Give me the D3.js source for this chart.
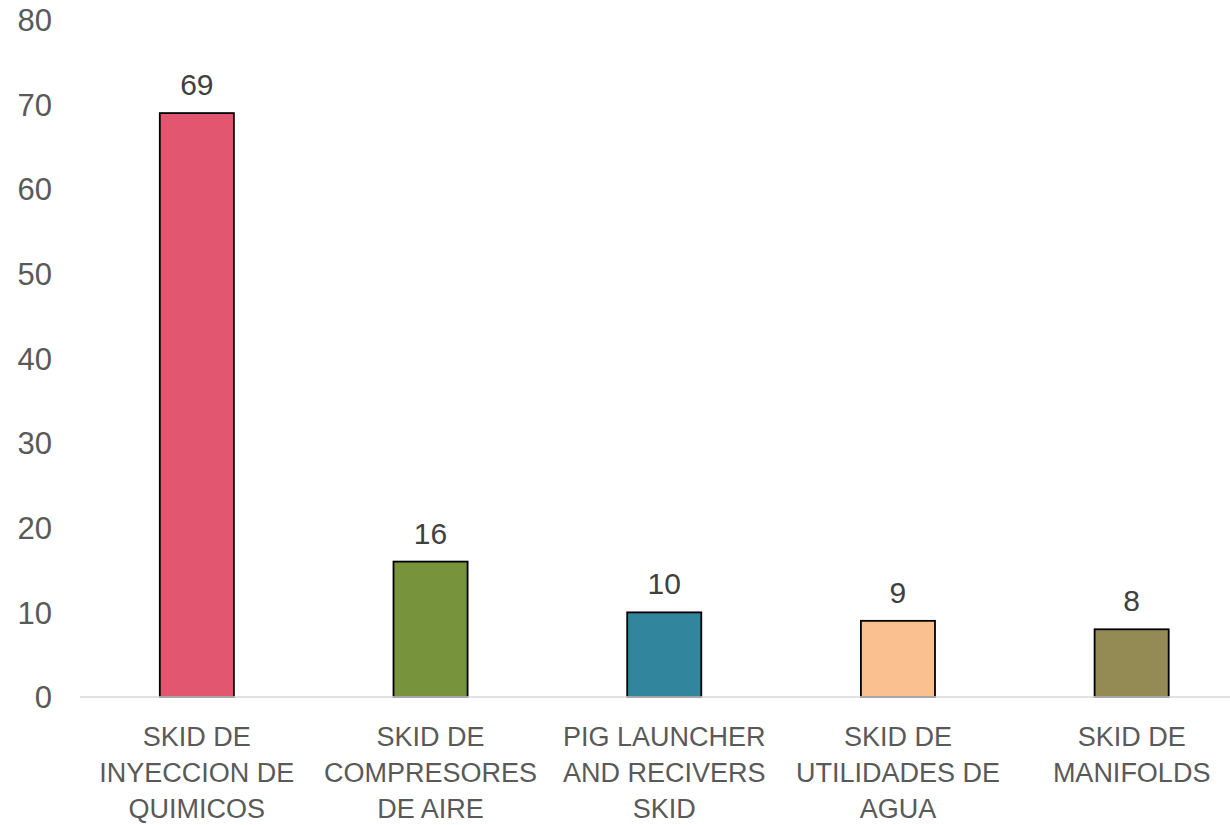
<!DOCTYPE html>
<html><head><meta charset="utf-8">
<script src="https://cdn.jsdelivr.net/npm/d3@7"></script>
<style>html,body{margin:0;padding:0;background:#fff;}svg{display:block;}</style>
</head><body>
<svg id="chart" width="1230" height="825"></svg>
<script>
const categories = [
  "SKID DE\nINYECCION DE\nQUIMICOS",
  "SKID DE\nCOMPRESORES\nDE AIRE",
  "PIG LAUNCHER\nAND RECIVERS\nSKID",
  "SKID DE\nUTILIDADES DE\nAGUA",
  "SKID DE\nMANIFOLDS"
];
const values = [69, 16, 10, 9, 8];
const colors = ["#E3566F", "#77933C", "#31859C", "#FAC090", "#948A54"];
const yTicks = [0, 10, 20, 30, 40, 50, 60, 70, 80];

const svg = d3.select("#chart");
const font = "'Liberation Sans', Arial, sans-serif";
const textColor = "#595959";

const x = d3.scaleBand().domain(categories).range([80, 1248.5]).paddingInner(0.683).paddingOuter(0.3415);
const y = d3.scaleLinear().domain([0, 80]).range([697, 20]);

// y tick labels
svg.append("g").selectAll("text").data(yTicks).join("text")
  .attr("x", 52).attr("y", d => y(d)).attr("dy", "0.36em")
  .attr("text-anchor", "end")
  .attr("font-family", font).attr("font-size", 31).attr("fill", textColor)
  .text(d => d);

// bars
svg.append("g").selectAll("rect").data(values).join("rect")
  .attr("x", (d, i) => x(categories[i]))
  .attr("y", d => y(d))
  .attr("width", x.bandwidth())
  .attr("height", d => y(0) - y(d))
  .attr("fill", (d, i) => colors[i])
  .attr("stroke", "#000").attr("stroke-width", 1.8);

// baseline
svg.append("line").attr("x1", 80).attr("x2", 1230).attr("y1", y(0)).attr("y2", y(0))
  .attr("stroke", "#D9D9D9").attr("stroke-width", 1.5);

// value labels
svg.append("g").selectAll("text").data(values).join("text")
  .attr("x", (d, i) => x(categories[i]) + x.bandwidth() / 2)
  .attr("y", d => y(d) - 18)
  .attr("text-anchor", "middle")
  .attr("font-family", font).attr("font-size", 30).attr("fill", "#404040")
  .text(d => d);

// category labels
const cat = svg.append("g").selectAll("text").data(categories).join("text")
  .attr("text-anchor", "middle")
  .attr("font-family", font).attr("font-size", 27).attr("fill", textColor)
  .attr("x", d => x(d) + x.bandwidth() / 2)
  .attr("y", 746);
cat.each(function(d) {
  const t = d3.select(this);
  d.split("\n").forEach((line, i) => {
    t.append("tspan").attr("x", x(d) + x.bandwidth() / 2).attr("dy", i === 0 ? 0 : 36).text(line);
  });
});
</script>
</body></html>
